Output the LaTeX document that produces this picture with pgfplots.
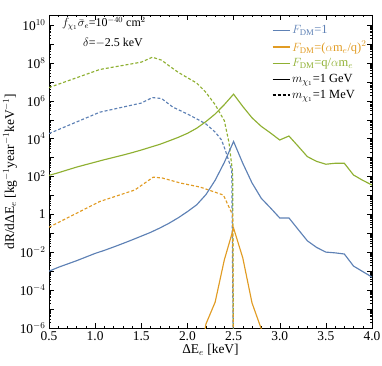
\documentclass[border=0pt]{standalone}
\usepackage{fontspec}
\setmainfont{Liberation Serif}
\usepackage{pgfplots}
\pgfplotsset{compat=1.18}
\definecolor{mblue}{HTML}{5E81B5}
\definecolor{morange}{HTML}{E19C24}
\definecolor{mgreen}{HTML}{8FB032}

\begin{document}
\begin{tikzpicture}
\begin{axis}[
  scale only axis, width=323bp, height=313bp,
  xmin=0.5, xmax=4.0,
  ymode=log, ymin=1e-6, ymax=3.4e10,
  xtick={0.5,1.0,1.5,2.0,2.5,3.0,3.5,4.0},
  minor x tick num=4,
  ytickten={-6,...,10},
  yticklabels={10$^{-6}$,{},10$^{-4}$,{},10$^{-2}$,{},1,{},10$^{2}$,{},10$^{4}$,{},10$^{6}$,{},10$^{8}$,{},10$^{10}$},
  /pgf/number format/assume math mode=true,
  xticklabel style={/pgf/number format/.cd, fixed, fixed zerofill, precision=1},
  tick label style={font=\fontsize{13.5}{15}\selectfont},
  label style={font=\fontsize{13.5}{15}\selectfont},
  major tick length=5bp, minor tick length=2.5bp,
  tick style={black, line width=0.4pt},
  axis line style={line width=0.5pt},
  xlabel={ΔE$_e$ [keV]},
  ylabel={dR/dΔE$_e$ [kg$^{-1}$year$^{-1}$keV$^{-1}$]},
  xlabel style={yshift=3bp},
  ylabel style={yshift=-4bp},
  legend style={at={(0.69,0.98)}, anchor=north west, draw=none, fill=none,
    font=\fontsize{12.5}{14}\selectfont, row sep=2bp, inner xsep=0pt},
  legend cell align=left,
  every axis plot/.append style={line width=1.15pt},
]
% legend
\addlegendimage{mblue}
\addlegendentry{\textcolor{mblue}{$F_{\rm DM}$=1}}
\addlegendimage{morange}
\addlegendentry{\textcolor{morange}{$F_{\rm DM}$=($\alpha$m$_e$/q)$^2$}}
\addlegendimage{mgreen}
\addlegendentry{\textcolor{mgreen}{$F_{\rm DM}$=q/$\alpha$m$_e$}}
\addlegendimage{black}
\addlegendentry{$m_{\chi_1}$=1 GeV}
\addlegendimage{black, dash pattern=on 3bp off 2bp}
\addlegendentry{$m_{\chi_1}$=1 MeV}

% m = 1 MeV (dashed)
\addplot[mgreen, dash pattern=on 3bp off 2bp, forget plot] coordinates {
(0.5,5.0e6) (1.05,4.5e7) (1.5,1.1e8) (1.62,2.0e8) (1.72,1.4e8) (1.8,7.1e7)
(1.9,3.2e7) (2.0,1.66e7) (2.1,8.7e6) (2.2,2.8e6) (2.3,6.3e5) (2.4,8.9e4)
(2.45,6300) (2.49,160) (2.5,1e-9)};
\addplot[mblue, dash pattern=on 3bp off 2bp, forget plot] coordinates {
(0.5,1.86e4) (1.05,2.5e5) (1.5,7.6e5) (1.62,1.48e6) (1.72,1.32e6) (1.84,4.7e5)
(2.0,2.0e5) (2.1,1.12e5) (2.2,6.0e4) (2.3,2.24e4) (2.37,8500) (2.41,2500)
(2.48,220) (2.5,1e-9)};
\addplot[morange, dash pattern=on 3bp off 2bp, forget plot] coordinates {
(0.5,0.21) (1.05,4.8) (1.43,19.5) (1.54,46) (1.63,93) (1.73,83) (1.92,46)
(2.14,27.5) (2.39,10.5) (2.49,0.93) (2.5,1e-9)};

% m = 1 GeV (solid)
\addplot[mblue, forget plot] coordinates {
(0.5,1.0e-3) (0.6,1.6e-3) (0.7,2.4e-3) (0.8,3.6e-3) (0.9,5.6e-3) (1.0,8.7e-3)
(1.1,1.26e-2) (1.2,1.9e-2) (1.3,2.9e-2) (1.4,4.5e-2) (1.5,7.1e-2) (1.6,0.112)
(1.7,0.19) (1.8,0.34) (1.9,0.66) (2.0,1.4) (2.1,3.2) (2.2,11) (2.3,63)
(2.4,560) (2.5,7100) (2.6,500) (2.7,46) (2.8,7.1) (2.9,2.2) (3.0,0.65)
(3.1,0.65) (3.2,0.16) (3.3,0.04) (3.4,0.018) (3.5,0.0102) (3.6,0.0093)
(3.7,0.0081) (3.8,0.00186) (3.9,0.00095) (4.0,0.00049)};
\addplot[mgreen, forget plot] coordinates {
(0.5,115) (0.6,158) (0.7,224) (0.8,316) (0.9,427) (1.0,575) (1.1,776)
(1.2,1020) (1.3,1350) (1.4,1820) (1.5,2510) (1.6,3550) (1.7,5010) (1.8,7590)
(1.9,11700) (2.0,19100) (2.1,35500) (2.2,79400) (2.3,2.0e5) (2.4,6.3e5)
(2.5,2.24e6) (2.6,5.0e5) (2.7,1.26e5) (2.8,44700) (2.9,20000) (3.0,8500)
(3.1,13800) (3.2,3980) (3.3,1120) (3.4,631) (3.5,447) (3.6,501) (3.7,501)
(3.8,120) (3.9,63) (4.0,35.5)};
\addplot[morange, forget plot] coordinates {
(2.1,1e-9) (2.2,1.6e-6) (2.3,2.3e-5) (2.4,4e-3) (2.5,0.19) (2.6,5e-3)
(2.7,2.1e-5) (2.8,9e-7) (2.9,1e-9)};

\node[anchor=west, font=\fontsize{12}{14}\selectfont] at (rel axis cs:0.03,0.972)
  {$f_{\chi_1}\bar{\sigma}_e$=10$^{-40}$ cm$^2$};
\node[anchor=west, font=\fontsize{12}{14}\selectfont] at (rel axis cs:0.095,0.91)
  {$\delta$=$-$2.5 keV};
\end{axis}
\pgfresetboundingbox
\path[use as bounding box] ([shift={(-49bp,-38bp)}]current axis.south west)
  rectangle ([shift={(10bp,15bp)}]current axis.north east);
\end{tikzpicture}
\end{document}
